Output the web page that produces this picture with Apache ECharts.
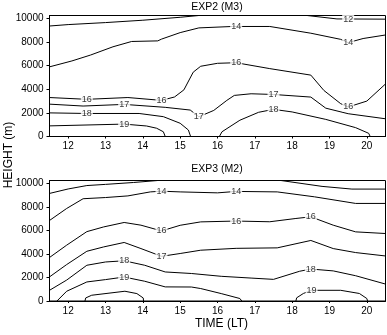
<!DOCTYPE html>
<html>
<head>
<meta charset="utf-8">
<script src="https://cdn.jsdelivr.net/npm/echarts@6/dist/echarts.min.js"></script>
<style>
html,body{margin:0;padding:0;background:#fff;}
#c{width:387px;height:335px;}
</style>
</head>
<body>
<div id="c"></div>
<script>
// ---- axis ticks ----
const xTicks = [12, 13, 14, 15, 16, 17, 18, 19, 20];
const yTicks = [0, 2000, 4000, 6000, 8000, 10000];
const titles = ['EXP2 (M3)', 'EXP3 (M2)'];

// ---- EXP2 (M3) contour lines: [time (LT), height (m)] ----
const exp2_12a = [[11.5,9360],[12,9480],[13,9650],[14,9850],[15,10100],[15.5,10250]];
const exp2_12b = [[18.4,10250],[19.2,9960],[20.5,9940]];
const exp2_14  = [[11.5,5900],[12.1,6400],[12.6,6900],[13.2,7600],[13.7,8050],[14.4,8100],[14.5,8250],[15.0,8800],[15.5,9200],[16.4,9320],[17.4,9320],[18.5,8750],[19.3,8230],[19.5,7950],[19.9,8300],[20.5,8600]];
const exp2_16  = [[11.5,3300],[12.5,3150],[13.6,3300],[14.5,3060],[14.85,3350],[15.1,3950],[15.35,5450],[15.55,5950],[16.0,6200],[16.5,6250],[17.4,5750],[18.5,5200],[18.85,3900],[19.3,2780],[19.5,2500],[20.0,3000],[20.5,4450]];
const exp2_17  = [[11.5,2740],[12.4,2580],[13.5,2720],[14.6,2470],[15.27,2240],[15.5,1670],[15.9,2210],[16.25,3060],[16.45,3480],[16.9,3620],[17.5,3560],[18.5,3340],[18.9,2400],[19.5,1930],[20.5,1500]];
const exp2_18a = [[11.5,2000],[12.5,1950],[13.9,1950],[14.55,1680],[15.0,1120],[15.22,550],[15.28,0]];
const exp2_18b = [[16.05,0],[16.12,400],[16.6,1380],[17.1,2050],[17.5,2300],[18.0,2080],[18.9,1450],[19.7,750],[20.05,270],[20.09,0]];
const exp2_19  = [[11.5,900],[13.5,1050],[14.1,890],[14.37,700],[14.55,400],[14.6,0]];
const exp2Lines = [exp2_12a, exp2_12b, exp2_14, exp2_16, exp2_17, exp2_18a, exp2_18b, exp2_19];
// contour labels: [time, height, value]
const exp2Labels = [[19.5,9940,12],[16.5,9320,14],[19.5,7950,14],[12.5,3150,16],[14.5,3060,16],[16.5,6250,16],[19.5,2500,16],[13.5,2720,17],[15.5,1670,17],[17.5,3560,17],[12.5,1950,18],[17.5,2300,18],[13.5,1050,19]];

// ---- EXP3 (M2) contour lines ----
const exp3_12a = [[11.5,9150],[12.0,9530],[12.5,9820],[13.0,9920],[13.75,10080],[14.4,10250]];
const exp3_12b = [[17.7,10250],[18.8,9750],[19.6,9520],[20.5,9520]];
const exp3_14  = [[11.5,6850],[11.96,7870],[12.4,8700],[13.0,8800],[13.6,8940],[14.2,9280],[14.5,9340],[15.0,9280],[16.0,9200],[16.5,9320],[17.6,9280],[18.6,8860],[19.7,8300],[20.5,8300]];
const exp3_16  = [[11.5,3700],[11.96,4750],[12.5,5900],[12.95,6300],[13.5,6680],[13.95,6450],[14.5,5960],[15.0,6440],[15.55,6730],[16.5,6800],[17.4,6740],[18.1,7020],[18.5,7160],[19.1,6450],[19.7,5880],[20.5,5740]];
const exp3_17  = [[11.5,2050],[11.96,3100],[12.5,4230],[12.95,4600],[13.5,4980],[13.95,4460],[14.5,3800],[15.0,4040],[15.55,4320],[16.5,4480],[17.6,4520],[18.5,5150],[19.1,4460],[19.7,4120],[20.5,3830]];
const exp3_18  = [[11.5,910],[11.96,1780],[12.5,3040],[13.0,3320],[13.5,3420],[14.05,3040],[14.6,2470],[15.3,2340],[16.1,2100],[16.9,1950],[17.5,1840],[18.2,2530],[18.5,2720],[19.1,2560],[19.7,2150],[20.5,1440]];
const exp3_19a = [[11.7,0],[11.96,830],[12.5,1620],[13.0,1820],[13.5,2040],[14.05,1680],[14.6,1200],[15.3,1190],[15.55,1060],[16.1,630],[16.6,210],[16.65,0]];
const exp3_19b = [[18.1,0],[18.12,270],[18.3,640],[18.52,910],[19.3,910],[19.8,640],[20.0,210],[20.02,0]];
const exp3_20  = [[12.45,0],[12.47,260],[12.63,490],[13.52,830],[13.84,630],[14.01,260],[14.02,0]];
const exp3Lines = [exp3_12a, exp3_12b, exp3_14, exp3_16, exp3_17, exp3_18, exp3_19a, exp3_19b, exp3_20];
const exp3Labels = [[14.5,9340,14],[16.5,9320,14],[14.5,5960,16],[16.5,6800,16],[18.5,7160,16],[14.5,3800,17],[13.5,3420,18],[18.5,2720,18],[13.5,2040,19],[18.52,910,19]];

const FONT = "'Liberation Sans', Arial, sans-serif";
const chart = echarts.init(document.getElementById('c'), null, {renderer: 'canvas'});

function xAxisDef(gi) {
  return {
    type: 'value', gridIndex: gi, min: 11.5, max: 20.5,
    axisLine: {show: true, onZero: false, lineStyle: {color: '#000', width: 1}},
    axisTick: {show: true, length: 2, customValues: xTicks, lineStyle: {color: '#000'}},
    axisLabel: {customValues: xTicks, formatter: v => String(v), color: '#000', fontSize: 10, fontFamily: FONT, margin: 5},
    splitLine: {show: false}
  };
}
function yAxisDef(gi) {
  return {
    type: 'value', gridIndex: gi, min: 0, max: 10250,
    axisLine: {show: true, onZero: false, lineStyle: {color: '#000', width: 1}},
    axisTick: {show: true, length: 3, customValues: yTicks, lineStyle: {color: '#000'}},
    axisLabel: {customValues: yTicks, formatter: v => String(v), color: '#000', fontSize: 10, fontFamily: FONT, margin: 6},
    splitLine: {show: false}
  };
}

const series = [];
[exp2Lines, exp3Lines].forEach((lines, gi) => {
  lines.forEach(pts => {
    series.push({
      type: 'line', xAxisIndex: gi, yAxisIndex: gi, data: pts,
      showSymbol: false, symbol: 'none', smooth: false, silent: true,
      lineStyle: {color: '#000', width: 1}, z: 2
    });
  });
});
[exp2Labels, exp3Labels].forEach((labs, gi) => {
  series.push({
    type: 'scatter', xAxisIndex: gi, yAxisIndex: gi, data: labs,
    symbolSize: 0, silent: true, z: 5,
    label: {
      show: true, position: 'inside', formatter: p => String(p.value[2]),
      color: '#000', fontSize: 9, fontFamily: FONT,
      backgroundColor: '#fff', padding: [0, 1]
    }
  });
});

chart.setOption({
  animation: false,
  backgroundColor: '#fff',
  grid: [
    {left: 49.5, top: 15.5, width: 336, height: 121, show: true, borderColor: '#000', borderWidth: 1, containLabel: false},
    {left: 49.5, top: 180.5, width: 336, height: 120.5, show: true, borderColor: '#000', borderWidth: 1, containLabel: false}
  ],
  xAxis: [xAxisDef(0), xAxisDef(1)],
  yAxis: [yAxisDef(0), yAxisDef(1)],
  graphic: [
    {type: 'text', x: 217, y: 7, style: {text: titles[0], fill: '#000', font: '10.5px ' + FONT, textAlign: 'center', textVerticalAlign: 'middle'}},
    {type: 'text', x: 217, y: 169.5, style: {text: titles[1], fill: '#000', font: '10.5px ' + FONT, textAlign: 'center', textVerticalAlign: 'middle'}},
    {type: 'text', x: 221.5, y: 324, style: {text: 'TIME (LT)', fill: '#000', font: '12px ' + FONT, textAlign: 'center', textVerticalAlign: 'middle'}},
    {type: 'text', x: 8.5, y: 155, rotation: Math.PI / 2, style: {text: 'HEIGHT (m)', fill: '#000', font: '12px ' + FONT, textAlign: 'center', textVerticalAlign: 'middle'}}
  ],
  series: series
});
</script>
</body>
</html>
